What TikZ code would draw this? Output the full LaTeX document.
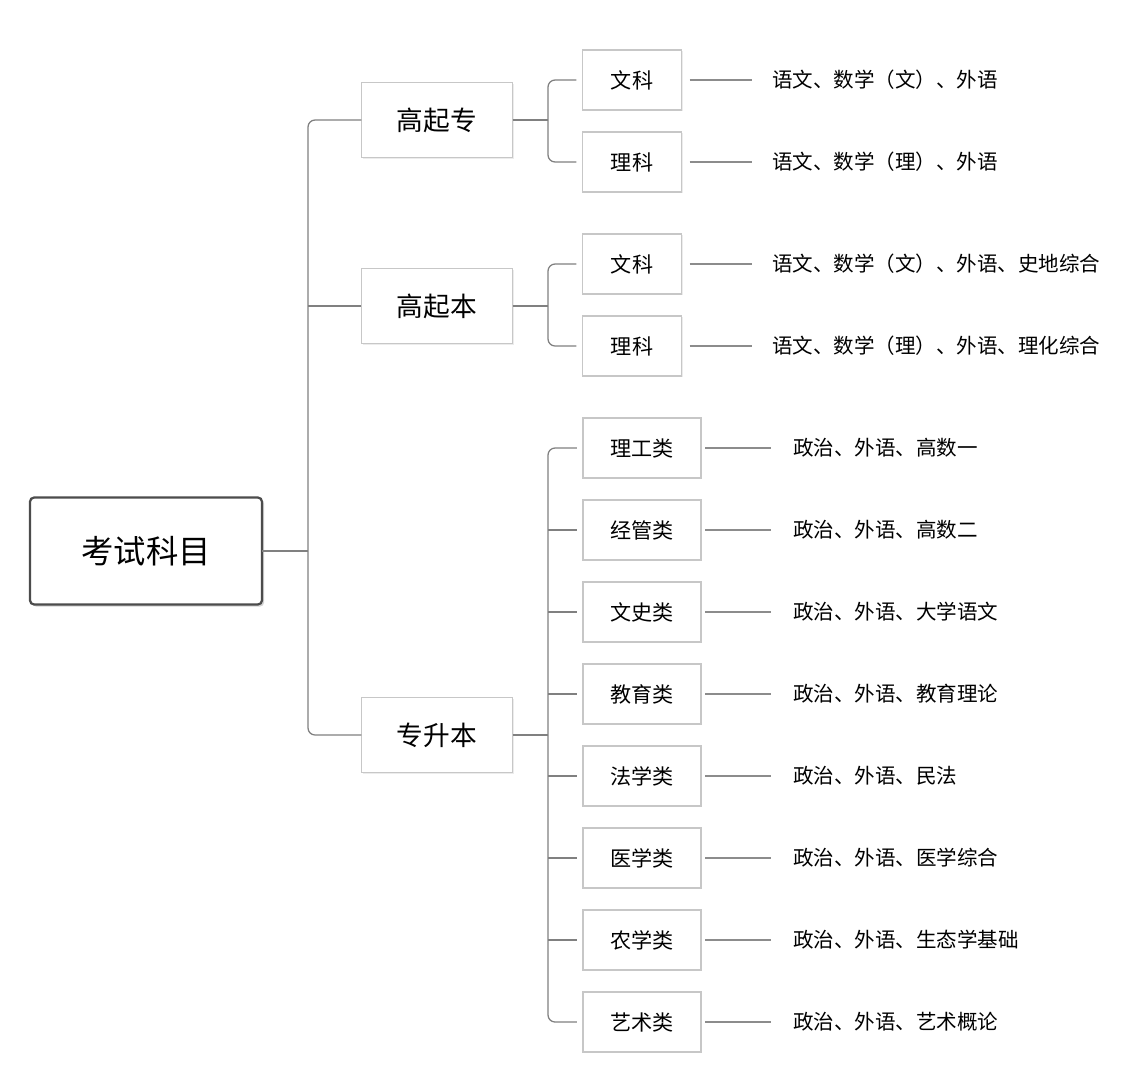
\documentclass[tikz,border=0pt]{standalone}
\usepackage{fontspec}
\setmainfont{Noto Sans CJK SC}
\usetikzlibrary{shadows}

\begin{document}
\begin{tikzpicture}[x=0.025cm, y=-0.025cm, line join=miter,
    every node/.style={outer sep=0pt},
    rootbox/.style={draw=black!70, line width=1.6pt, fill=white, rounded corners=3pt, minimum width=5.8cm, minimum height=2.675cm, font=\fontsize{23}{26}\selectfont, drop shadow={opacity=0.35, shadow xshift=1.5pt, shadow yshift=-1.5pt}},
    topicbox/.style={draw=black!22, line width=0.8pt, fill=white, minimum width=3.775cm, minimum height=1.875cm, font=\fontsize{19}{22}\selectfont, drop shadow={opacity=0.15, shadow xshift=1pt, shadow yshift=-1pt}},
    subbox/.style={draw=black!22, line width=0.8pt, fill=white, minimum width=2.475cm, minimum height=1.5cm, font=\fontsize{15}{18}\selectfont, drop shadow={opacity=0.15, shadow xshift=1pt, shadow yshift=-1pt}},
    widebox/.style={subbox, minimum width=2.95cm},
    leaf/.style={anchor=west, inner sep=0pt, font=\fontsize{14.6}{17}\selectfont},
    branch/.style={draw=black!50, line width=0.9pt, rounded corners=5pt},
    twig/.style={draw=black!45, line width=0.8pt}]
    \useasboundingbox (0,0) rectangle (1144,1079);

    % root and first level
    \node[rootbox] (root) at (146, 551) {考试科目};
    \node[topicbox] (gqz) at (437, 120) {高起专};
    \node[topicbox] (gqb) at (437, 306) {高起本};
    \node[topicbox] (zsb) at (437, 735) {专升本};

    % 高起专
    \node[subbox] (gqzw) at (632, 80) {文科};
    \node[subbox] (gqzl) at (632, 162) {理科};
    \node[leaf] (tgqzw) at (772, 80) {语文、数学（文）、外语};
    \node[leaf] (tgqzl) at (772, 162) {语文、数学（理）、外语};

    % 高起本
    \node[subbox] (gqbw) at (632, 264) {文科};
    \node[subbox] (gqbl) at (632, 346) {理科};
    \node[leaf] (tgqbw) at (772, 264) {语文、数学（文）、外语、史地综合};
    \node[leaf] (tgqbl) at (772, 346) {语文、数学（理）、外语、理化综合};

    % 专升本
    \node[widebox] (lg) at (642, 448) {理工类};
    \node[widebox] (jg) at (642, 530) {经管类};
    \node[widebox] (ws) at (642, 612) {文史类};
    \node[widebox] (jy) at (642, 694) {教育类};
    \node[widebox] (fx) at (642, 776) {法学类};
    \node[widebox] (yx) at (642, 858) {医学类};
    \node[widebox] (nx) at (642, 940) {农学类};
    \node[widebox] (ys) at (642, 1022) {艺术类};
    \node[leaf] (tlg) at (793, 448) {政治、外语、高数一};
    \node[leaf] (tjg) at (793, 530) {政治、外语、高数二};
    \node[leaf] (tws) at (793, 612) {政治、外语、大学语文};
    \node[leaf] (tjy) at (793, 694) {政治、外语、教育理论};
    \node[leaf] (tfx) at (793, 776) {政治、外语、民法};
    \node[leaf] (tyx) at (793, 858) {政治、外语、医学综合};
    \node[leaf] (tnx) at (793, 940) {政治、外语、生态学基础};
    \node[leaf] (tys) at (793, 1022) {政治、外语、艺术概论};

    % joints
    \coordinate (j0) at (308, 551);
    \coordinate (j1) at (548, 120);
    \coordinate (j2) at (548, 306);
    \coordinate (j3) at (548, 735);

    \draw[branch] (root.east) -- (j0);
    \draw[branch] (j0) |- (gqz.west);
    \draw[branch] (j0) |- (zsb.west);
    \draw[branch] (j0 |- gqb.west) -- (gqb.west);

    \draw[branch] (gqz.east) -- (j1);
    \draw[branch] (j1) |- ([xshift=-0.15cm]gqzw.west);
    \draw[branch] (j1) |- ([xshift=-0.15cm]gqzl.west);
    \draw[branch] (gqb.east) -- (j2);
    \draw[branch] (j2) |- ([xshift=-0.15cm]gqbw.west);
    \draw[branch] (j2) |- ([xshift=-0.15cm]gqbl.west);

    \draw[branch] (zsb.east) -- (j3);
    \draw[branch] (j3) |- ([xshift=-0.15cm]lg.west);
    \draw[branch] (j3) |- ([xshift=-0.15cm]ys.west);
    \draw[branch] (j3 |- jg.west) -- ([xshift=-0.15cm]jg.west);
    \draw[branch] (j3 |- ws.west) -- ([xshift=-0.15cm]ws.west);
    \draw[branch] (j3 |- jy.west) -- ([xshift=-0.15cm]jy.west);
    \draw[branch] (j3 |- fx.west) -- ([xshift=-0.15cm]fx.west);
    \draw[branch] (j3 |- yx.west) -- ([xshift=-0.15cm]yx.west);
    \draw[branch] (j3 |- nx.west) -- ([xshift=-0.15cm]nx.west);

    % leaves
    \draw[twig, shorten <=0.2cm, shorten >=0.5cm] (gqzw.east) -- (tgqzw.west);
    \draw[twig, shorten <=0.2cm, shorten >=0.5cm] (gqzl.east) -- (tgqzl.west);
    \draw[twig, shorten <=0.2cm, shorten >=0.5cm] (gqbw.east) -- (tgqbw.west);
    \draw[twig, shorten <=0.2cm, shorten >=0.5cm] (gqbl.east) -- (tgqbl.west);
    \draw[twig, shorten <=0.1cm, shorten >=0.55cm] (lg.east) -- (tlg.west);
    \draw[twig, shorten <=0.1cm, shorten >=0.55cm] (jg.east) -- (tjg.west);
    \draw[twig, shorten <=0.1cm, shorten >=0.55cm] (ws.east) -- (tws.west);
    \draw[twig, shorten <=0.1cm, shorten >=0.55cm] (jy.east) -- (tjy.west);
    \draw[twig, shorten <=0.1cm, shorten >=0.55cm] (fx.east) -- (tfx.west);
    \draw[twig, shorten <=0.1cm, shorten >=0.55cm] (yx.east) -- (tyx.west);
    \draw[twig, shorten <=0.1cm, shorten >=0.55cm] (nx.east) -- (tnx.west);
    \draw[twig, shorten <=0.1cm, shorten >=0.55cm] (ys.east) -- (tys.west);
\end{tikzpicture}
\end{document}
